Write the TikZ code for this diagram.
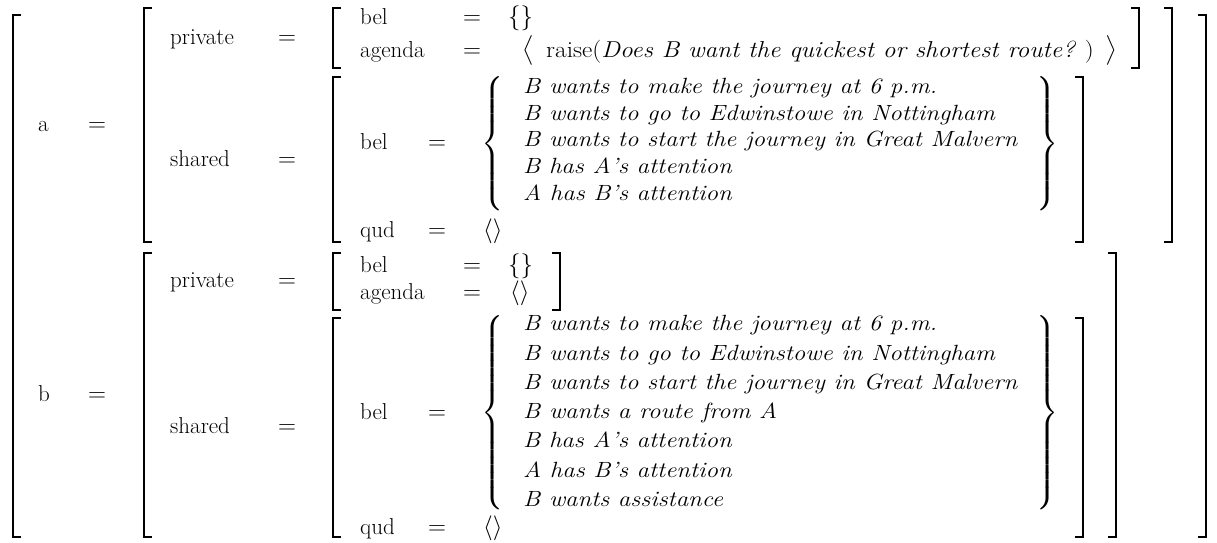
\documentclass[tikz,border=0pt]{standalone}
\usepackage{amsmath}
\usepackage{graphicx}
\usepackage{fontspec}
% opening / closing square bracket of an attribute-value matrix
\newcommand\openbr[3]{\draw[brk] (#1+8,#2) -- (#1,#2) -- (#1,#3) -- (#1+8,#3);}
\newcommand\closebr[3]{\draw[brk] (#1-8,#2) -- (#1,#2) -- (#1,#3) -- (#1-8,#3);}
% extensible curly braces of a given height
\newcommand\setopen[1]{$\left\{\vcenter{\hbox{\rule{0pt}{#1}}}\right.$}
\newcommand\setclose[1]{$\left.\vcenter{\hbox{\rule{0pt}{#1}}}\right\}$}
\newcommand\avmfont{\fontsize{23}{27}\selectfont}
% values are set slightly wide
\newcommand\wide[1]{\scalebox{1.1}[1]{#1}}
\newcommand\wider[1]{\scalebox{1.13}[1]{#1}}
\begin{document}
\begin{tikzpicture}[x=1pt,y=-1pt,
  every node/.style={inner sep=0pt, font=\avmfont},
  lbl/.style={anchor=base west},
  fact/.style={anchor=base west, font=\fontsize{22}{26}\selectfont\itshape},
  brk/.style={line width=2.2pt, line cap=butt, line join=miter},
]
\useasboundingbox (0,0) rectangle (1217,542);

% outermost matrix
\openbr{13}{15}{537}
\closebr{1206}{15}{537}

% ---------- a ----------
\node[lbl] (a) at (38,131) {a};
\node[lbl] (aeq) at (88,131) {$=$};
\openbr{144}{8}{242}
\closebr{1172}{8}{242}

\node[lbl] (apriv) at (170,44) {private};
\node[lbl] (aprieq) at (278,44) {$=$};
\openbr{333}{8}{68}
\closebr{1139}{8}{68}
\node[lbl] (apbel) at (360,24) {bel};
\node[lbl] (apbeleq) at (463,24) {$=$};
\node[lbl] (apbelv) at (508,24) {$\{\}$};
\node[lbl] (apag) at (360,57) {agenda};
\node[lbl] (apageq) at (463,57) {$=$};
\node[lbl] (apagl) at (522,57) {$\big\langle$};
\node[lbl] (apagv) at (546,57) {\wide{raise(\textit{Does B want the quickest or shortest route?\ })}};
\node[lbl] (apagr) at (1105,57) {$\big\rangle$};

\node[lbl] (ashr) at (170,166) {shared};
\node[lbl] (ashreq) at (278,166) {$=$};
\openbr{333}{77}{242}
\closebr{1083}{77}{242}
\node[lbl] (asbel) at (360,149) {bel};
\node[lbl] (asbeleq) at (428,149) {$=$};
\node (asbl) at (493,144) {\setopen{138pt}};
\node (asbr) at (1047,144) {\setclose{138pt}};
\node[fact] (af1) at (523,93) {\wider{B wants to make the journey at 6 p.m.}};
\node[fact] (af2) at (523,120) {\wider{B wants to go to Edwinstowe in Nottingham}};
\node[fact] (af3) at (523,146) {\wider{B wants to start the journey in Great Malvern}};
\node[fact] (af4) at (523,173) {\wider{B has A's attention}};
\node[fact] (af5) at (523,200) {\wider{A has B's attention}};
\node[lbl] (asqud) at (360,237) {qud};
\node[lbl] (asqudeq) at (428,237) {$=$};
\node[lbl] (asqudv) at (483,237) {$\langle\rangle$};

% ---------- b ----------
\node[lbl] (b) at (38,401) {b};
\node[lbl] (beq) at (88,401) {$=$};
\openbr{144}{253}{537}
\closebr{1116}{253}{537}

\node[lbl] (bpriv) at (170,287) {private};
\node[lbl] (bprieq) at (278,287) {$=$};
\openbr{333}{253}{310}
\closebr{560}{253}{310}
\node[lbl] (bpbel) at (360,272) {bel};
\node[lbl] (bpbeleq) at (463,272) {$=$};
\node[lbl] (bpbelv) at (508,272) {$\{\}$};
\node[lbl] (bpag) at (360,299) {agenda};
\node[lbl] (bpageq) at (463,299) {$=$};
\node[lbl] (bpagv) at (510,299) {$\langle\rangle$};

\node[lbl] (bshr) at (170,433) {shared};
\node[lbl] (bshreq) at (278,433) {$=$};
\openbr{333}{318}{537}
\closebr{1083}{318}{537}
\node[lbl] (bsbel) at (360,419) {bel};
\node[lbl] (bsbeleq) at (428,419) {$=$};
\node (bsbl) at (493,413) {\setopen{188pt}};
\node (bsbr) at (1047,413) {\setclose{188pt}};
\node[fact] (bf1) at (523,330) {\wider{B wants to make the journey at 6 p.m.}};
\node[fact] (bf2) at (523,360) {\wider{B wants to go to Edwinstowe in Nottingham}};
\node[fact] (bf3) at (523,389) {\wider{B wants to start the journey in Great Malvern}};
\node[fact] (bf4) at (523,418) {\wider{B wants a route from A}};
\node[fact] (bf5) at (523,447) {\wider{B has A's attention}};
\node[fact] (bf6) at (523,477) {\wider{A has B's attention}};
\node[fact] (bf7) at (523,506) {\wider{B wants assistance}};
\node[lbl] (bsqud) at (360,534) {qud};
\node[lbl] (bsqudeq) at (428,534) {$=$};
\node[lbl] (bsqudv) at (483,534) {$\langle\rangle$};
\end{tikzpicture}
\end{document}
